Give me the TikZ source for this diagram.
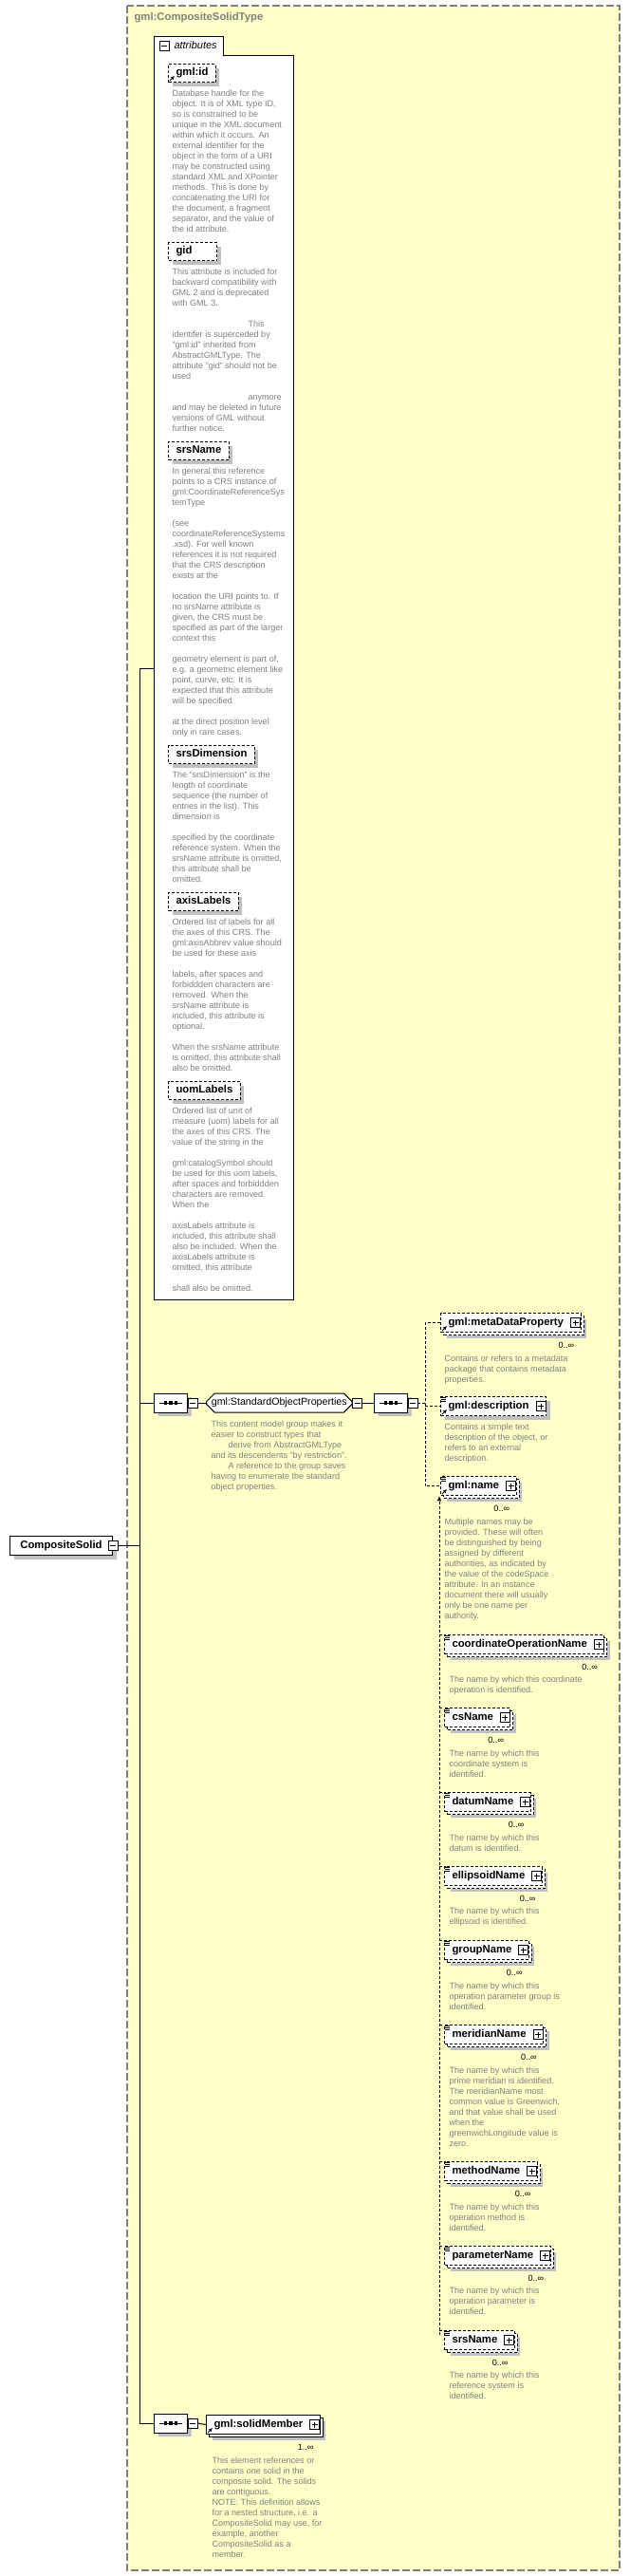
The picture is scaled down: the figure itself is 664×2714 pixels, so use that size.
\documentclass[tikz,border=0pt]{standalone}
\usepackage{fontspec}
\setmainfont{Liberation Sans}
\usepackage{tikz}
\usetikzlibrary{arrows.meta, shapes.misc, shadows, positioning, calc}
\definecolor{typeyellow}{RGB}{255,255,200}
\definecolor{docgray}{RGB}{128,128,128}
\definecolor{shadegray}{RGB}{192,192,192}
\newcommand\elemfont{\fontsize{8.5pt}{10pt}\selectfont\bfseries}
\newcommand\docfont{\fontsize{6.8pt}{8.25pt}\selectfont}

\tikzset{
  typebox/.style={draw=docgray, line width=1.1pt, dash pattern=on 6pt off 2.25pt, fill=typeyellow},
  optline/.style={dash pattern=on 2.25pt off 1.5pt},
  shade4/.style={drop shadow={fill=shadegray, opacity=1, shadow xshift=3pt, shadow yshift=-3pt}},
  stack/.style={drop shadow={fill=shadegray, opacity=1, shadow xshift=4.5pt, shadow yshift=-4.5pt},
                copy shadow={shadow xshift=2.25pt, shadow yshift=-2.25pt, draw=black, fill=white, #1}},
  stack/.default=solid,
  attrbox/.style={draw, optline, fill=white, font=\elemfont, text height=6.2pt, text depth=1.8pt,
                  minimum height=14.25pt, inner xsep=6pt, inner ysep=0pt, anchor=north west, shade4},
  elembox/.style={draw, fill=white, font=\elemfont, text height=6.2pt, text depth=1.8pt,
                  minimum height=15pt, inner xsep=6pt, inner ysep=0pt, anchor=north west,
                  execute at end node={\hspace*{7.5pt}}},
  doc/.style={font=\docfont, text=docgray, align=left, inner sep=0pt, anchor=north west, yshift=3.6pt},
  mult/.style={font=\docfont, inner sep=0pt, anchor=east},
  seqbox/.style={chamfered rectangle, chamfered rectangle xsep=3.75pt, draw, fill=white,
                 minimum width=26.25pt, minimum height=15pt, inner sep=0pt, anchor=west, shade4},
  groupbox/.style={chamfered rectangle, chamfered rectangle xsep=3pt, draw, fill=white,
                   font=\fontsize{8pt}{10pt}\selectfont, text height=6pt, text depth=1.8pt,
                   minimum height=15pt, inner xsep=1pt, inner ysep=0pt, anchor=west},
  plus/.pic={\draw[solid, fill=white] (-11,-5) rectangle (-1,5);
             \draw[solid] (-9,0) -- (-3,0) (-6,-3) -- (-6,3);},
  minus/.pic={\draw[solid, fill=white] (0,-5) rectangle (10,5);
              \draw[solid] (2,0) -- (8,0);},
  seqmark/.pic={\draw (-12,0) -- (12,0);
                \foreach \d in {-5.5,0,5.5} \fill (\d-1.6,-1.6) rectangle (\d+1.6,1.6);},
  simple/.pic={\foreach \k in {1.5,3.5,5.5} \draw[solid, line width=0.5pt] (1,\k) -- (6,\k);},
  refmark/.pic={\draw[solid, -{Latex[length=3pt,width=3pt]}] (2,-2) -- (7,-7);},
}

\begin{document}
\begin{tikzpicture}[x=0.75pt, y=-0.75pt, line width=0.75pt]
  \useasboundingbox (0,0) rectangle (664,2714);

  % complex type frame
  \path[typebox] (134,6) rectangle (653,2708);
  \node[anchor=west, inner sep=0pt, font=\fontsize{8.5pt}{10pt}\selectfont\bfseries, text=docgray]
    (typetitle) at (141,19) {gml:CompositeSolidType};

  % attributes panel
  \path[draw, fill=white] (162,1369) -- (162,38) -- (235,38) -- (235,58) -- (309,58) -- (309,1369) -- cycle;
  \node[anchor=west, inner sep=0pt, font=\fontsize{8.25pt}{10pt}\selectfont\itshape] (attrtitle) at (183,48) {attributes};
  \pic at (168,48) {minus};
  \coordinate (attrs) at (162,704);

  \node[attrbox] (aid) at (177,67) {gml:id};
  \node[doc] (aid-doc) at (181,99) {Database handle for the\\object.  It is of XML type ID,\\so is constrained to be\\unique in the XML document\\within which it occurs.  An\\external identifier for the\\object in the form of a URI\\may be constructed using\\standard XML and XPointer\\methods.  This is done by\\concatenating the URI for\\the document, a fragment\\separator, and the value of\\the id attribute.};

  \node[attrbox, text width=26.25pt] (agid) at (177,255) {gid};
  \node[doc] (agid-doc) at (181,287) {This attribute is included for\\backward compatibility with\\GML 2 and is deprecated\\with GML 3.\\[8.25pt]\hspace*{60pt}This\\identifer is superceded by\\"gml:id" inherited from\\AbstractGMLType. The\\attribute "gid" should not be\\used\\[8.25pt]\hspace*{60pt}anymore\\and may be deleted in future\\versions of GML without\\further notice.};

  \node[attrbox] (asrs) at (177,465) {srsName};
  \node[doc] (asrs-doc) at (181,497) {In general this reference\\points to a CRS instance of\\gml:CoordinateReferenceSys\\temType\\[8.25pt](see\\coordinateReferenceSystems\\.xsd). For well known\\references it is not required\\that the CRS description\\exists at the\\[8.25pt]location the URI points to. If\\no srsName attribute is\\given, the CRS must be\\specified as part of the larger\\context this\\[8.25pt]geometry element is part of,\\e.g. a geometric element like\\point, curve, etc. It is\\expected that this attribute\\will be specified\\[8.25pt]at the direct position level\\only in rare cases.};

  \node[attrbox] (adim) at (177,785) {srsDimension};
  \node[doc] (adim-doc) at (181,817) {The "srsDimension" is the\\length of coordinate\\sequence (the number of\\entries in the list). This\\dimension is\\[8.25pt]specified by the coordinate\\reference system. When the\\srsName attribute is omitted,\\this attribute shall be\\omitted.};

  \node[attrbox] (aaxis) at (177,940) {axisLabels};
  \node[doc] (aaxis-doc) at (181,972) {Ordered list of labels for all\\the axes of this CRS. The\\gml:axisAbbrev value should\\be used for these axis\\[8.25pt]labels, after spaces and\\forbiddden characters are\\removed. When the\\srsName attribute is\\included, this attribute is\\optional.\\[8.25pt]When the srsName attribute\\is omitted, this attribute shall\\also be omitted.};

  \node[attrbox] (auom) at (177,1139) {uomLabels};
  \node[doc] (auom-doc) at (181,1171) {Ordered list of unit of\\measure (uom) labels for all\\the axes of this CRS. The\\value of the string in the\\[8.25pt]gml:catalogSymbol should\\be used for this uom labels,\\after spaces and forbiddden\\characters are removed.\\When the\\[8.25pt]axisLabels attribute is\\included, this attribute shall\\also be included. When the\\axisLabels attribute is\\omitted, this attribute\\[8.25pt]shall also be omitted.};

  % root element and content model
  \node[draw, fill=white, font=\elemfont, text height=6.2pt, text depth=1.8pt, minimum width=81pt,
        minimum height=15pt, anchor=north west, shade4] (root) at (10,1618) {CompositeSolid};
  \node[seqbox] (seqA) at (162,1478) {};
  \node[groupbox] (sop) at (217,1478) {gml:StandardObjectProperties};
  \node[doc] (sop-doc) at (222,1501) {This content model group makes it\\easier to construct types that\\\hspace*{13.5pt}derive from AbstractGMLType\\and its descendents "by restriction".\\\hspace*{13.5pt}A reference to the group saves\\having to enumerate the standard\\object properties.};
  \node[seqbox] (seqB) at (394,1478) {};
  \node[seqbox] (seqC) at (162,2553) {};

  % standard object properties
  \node[elembox, optline, stack=optline] (meta) at (464,1383) {gml:metaDataProperty};
  \node[doc] (meta-doc) at (468,1432) {Contains or refers to a metadata\\package that contains metadata\\properties.};
  \node[elembox, optline, shade4] (descr) at (464,1471) {gml:description};
  \node[doc] (descr-doc) at (468,1504) {Contains a simple text\\description of the object, or\\refers to an external\\description.};
  \node[elembox, optline, stack=optline] (gname) at (464,1555) {gml:name};
  \node[doc] (gname-doc) at (468,1604) {Multiple names may be\\provided.  These will often\\be distinguished by being\\assigned by different\\authorities, as indicated by\\the value of the codeSpace\\attribute.  In an instance\\document there will usually\\only be one name per\\authority.};

  % substitutes of gml:name
  \node[elembox, optline, stack=optline] (coordop) at (468,1722) {coordinateOperationName};
  \node[doc] (coordop-doc) at (473,1770) {The name by which this coordinate\\operation is identified.};
  \node[elembox, optline, stack=optline] (csname) at (468,1799) {csName};
  \node[doc] (csname-doc) at (473,1848) {The name by which this\\coordinate system is\\identified.};
  \node[elembox, optline, stack=optline] (datum) at (468,1888) {datumName};
  \node[doc] (datum-doc) at (473,1937) {The name by which this\\datum is identified.};
  \node[elembox, optline, stack=optline] (ellips) at (468,1966) {ellipsoidName};
  \node[doc] (ellips-doc) at (473,2014) {The name by which this\\ellipsoid is identified.};
  \node[elembox, optline, stack=optline] (group) at (468,2044) {groupName};
  \node[doc] (group-doc) at (473,2093) {The name by which this\\operation parameter group is\\identified.};
  \node[elembox, optline, stack=optline] (merid) at (468,2133) {meridianName};
  \node[doc] (merid-doc) at (473,2182) {The name by which this\\prime meridian is identified.\\The meridianName most\\common value is Greenwich,\\and that value shall be used\\when the\\greenwichLongitude value is\\zero.};
  \node[elembox, optline, stack=optline] (method) at (468,2277) {methodName};
  \node[doc] (method-doc) at (473,2326) {The name by which this\\operation method is\\identified.};
  \node[elembox, optline, stack=optline] (param) at (468,2366) {parameterName};
  \node[doc] (param-doc) at (473,2414) {The name by which this\\operation parameter is\\identified.};
  \node[elembox, optline, stack=optline] (srs) at (468,2455) {srsName};
  \node[doc] (srs-doc) at (473,2503) {The name by which this\\reference system is\\identified.};

  % solid members
  \node[elembox, stack] (solid) at (217,2544) {gml:solidMember};
  \node[mult] (solid-mult) at ([xshift=-5.25pt,yshift=-9.75pt]solid.south east) {1..∞};
  \node[doc] (solid-doc) at (223,2593) {This element references or\\contains one solid in the\\composite solid. The solids\\are contiguous.\\NOTE: This definition allows\\for a nested structure, i.e. a\\CompositeSolid may use, for\\example, another\\CompositeSolid as a\\member.};

  % markers
  \foreach \n in {meta,gname,coordop,csname,datum,ellips,group,merid,method,param,srs}
    \node[mult] (\n-mult) at ([xshift=-5.25pt,yshift=-9.75pt]\n.south east) {0..∞};
  \foreach \n in {meta,descr,gname,coordop,csname,datum,ellips,group,merid,method,param,srs,solid}
    \pic at (\n.east) {plus};
  \foreach \n in {descr,gname,coordop,csname,datum,ellips,group,merid,method,param,srs}
    \pic at (\n.north west) {simple};
  \foreach \n in {aid,meta,descr,gname,solid}
    \pic at (\n.south west) {refmark};
  \foreach \n in {seqA,seqB,seqC} {
    \pic at (\n) {seqmark};
    \pic at (\n.east) {minus};
  }
  \pic at (sop.east) {minus};
  \pic at ([xshift=-3.75pt]root.east) {minus};

  % connectors
  \coordinate (spinetop) at (147,704);
  \coordinate (spinebot) at (147,2553);
  \draw (spinetop) -- (spinebot);
  \draw (spinetop) -- (attrs);
  \draw ([xshift=3.75pt]root.east) -- (root.east -| spinetop);
  \draw (spinetop |- seqA.west) -- (seqA.west);
  \draw (spinebot) -- (seqC.west);
  \draw ([xshift=7.5pt]seqA.east) -- (sop.west);
  \draw ([xshift=7.5pt]sop.east) -- (seqB.west);
  \draw ([xshift=7.5pt]seqC.east) -- (solid.west);

  \coordinate (fork) at (448,1478);
  \draw[optline] ([xshift=7.5pt]seqB.east) -- (fork);
  \draw[optline] (meta.west) -| (fork) |- (gname.west);
  \draw[optline] (fork |- descr.west) -- (descr.west);

  \coordinate (subtop) at ($(gname.south west)+(-1,0)$);
  \coordinate (subbot) at (463,2460);
  \draw[optline, -{Latex[length=4pt,width=3.5pt]}] (subbot) -- (subtop);
  \foreach \n in {coordop,csname,datum,ellips,group,merid,method,param,srs}
    \draw[optline] (subtop |- \n.north west) -- (\n.north west);
\end{tikzpicture}
\end{document}
